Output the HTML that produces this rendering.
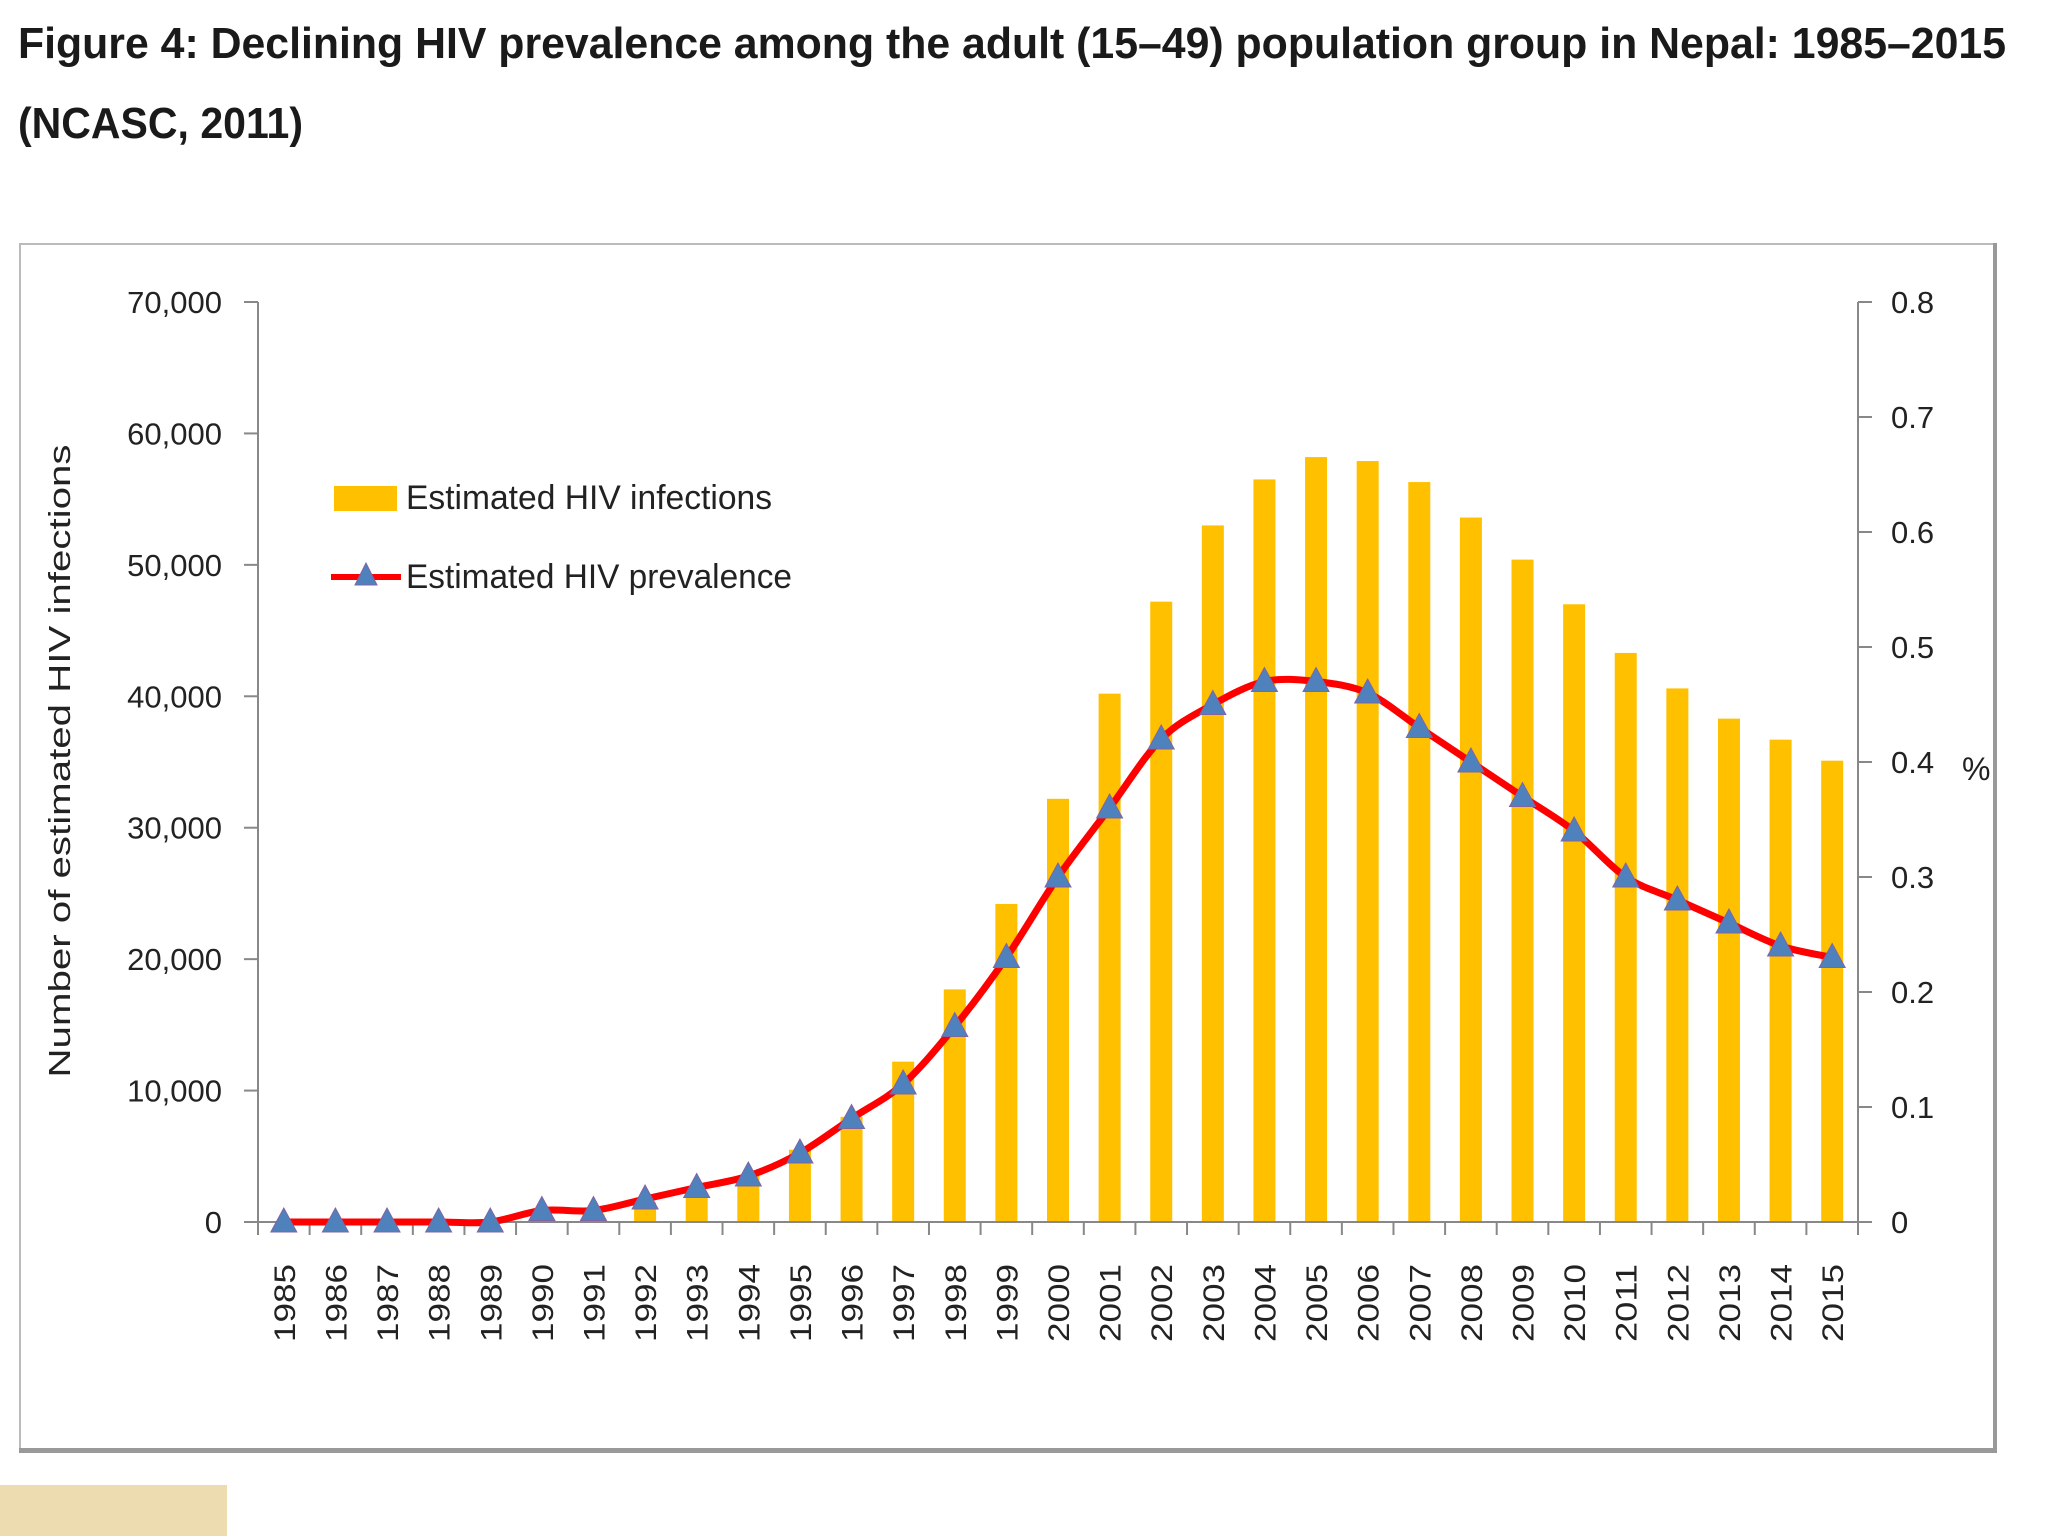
<!DOCTYPE html>
<html><head><meta charset="utf-8"><style>
html,body{margin:0;padding:0;background:#fff;}
svg{display:block;}
</style></head><body>
<svg id="chart" width="2048" height="1536" viewBox="0 0 2048 1536" font-family="'Liberation Sans', sans-serif">
<text x="18" y="58" font-size="44" font-weight="bold" fill="#1a1a1a" textLength="1988" lengthAdjust="spacingAndGlyphs">Figure 4: Declining HIV prevalence among the adult (15–49) population group in Nepal: 1985–2015</text>
<text x="18" y="138" font-size="44" font-weight="bold" fill="#1a1a1a" textLength="285" lengthAdjust="spacingAndGlyphs">(NCASC, 2011)</text>
<rect x="20" y="243" width="1975" height="2" fill="#bbb"/>
<rect x="19" y="243" width="2" height="1205" fill="#bbb"/>
<rect x="1993" y="243" width="4" height="1210" fill="#999"/>
<rect x="19" y="1448" width="1978" height="5" fill="#999"/>
<rect x="0" y="1485" width="227" height="51" fill="#ecdcb0"/>
<g id="plot"></g>
<g>
<rect x="334" y="486" width="63" height="25" fill="#ffc000"/>
<text x="406" y="509" font-size="34" fill="#222" textLength="366" lengthAdjust="spacingAndGlyphs">Estimated HIV infections</text>
<line x1="331" y1="577" x2="401" y2="577" stroke="#ff0000" stroke-width="6"/>
<polygon points="366,563 355,585 377,585" fill="#4f81bd" stroke="#8064a2" stroke-width="1"/>
<text x="406" y="588" font-size="34" fill="#222" textLength="386" lengthAdjust="spacingAndGlyphs">Estimated HIV prevalence</text>
</g>
<text transform="translate(70,761) rotate(-90)" text-anchor="middle" font-size="31" fill="#222" textLength="633" lengthAdjust="spacingAndGlyphs">Number of estimated HIV infections</text>
<text x="1962" y="780" font-size="32" fill="#222">%</text>
</svg>
<script>
const years = [1985,1986,1987,1988,1989,1990,1991,1992,1993,1994,1995,1996,1997,1998,1999,2000,2001,2002,2003,2004,2005,2006,2007,2008,2009,2010,2011,2012,2013,2014,2015];
const infections = [0,0,0,0,0,300,600,1500,2000,3500,5500,8000,12200,17700,24200,32200,40200,47200,53000,56500,58200,57900,56300,53600,50400,47000,43300,40600,38300,36700,35100];
const prevalence = [0,0,0,0,0,0.01,0.01,0.02,0.03,0.04,0.06,0.09,0.12,0.17,0.23,0.30,0.36,0.42,0.45,0.47,0.47,0.46,0.43,0.40,0.37,0.34,0.30,0.28,0.26,0.24,0.23];
const leftTicks = [0,10000,20000,30000,40000,50000,60000,70000];
const leftTickLabels = ["0","10,000","20,000","30,000","40,000","50,000","60,000","70,000"];
const rightTicks = [0,0.1,0.2,0.3,0.4,0.5,0.6,0.7,0.8];
const rightTickLabels = ["0","0.1","0.2","0.3","0.4","0.5","0.6","0.7","0.8"];

const NS="http://www.w3.org/2000/svg";
const g=document.getElementById('plot');
const X0=258,X1=1858,Y0=1222,Y1=302;
const step=(X1-X0)/years.length;
const xc=i=>X0+step*(i+0.5);
const yL=v=>Y0-(v/70000)*(Y0-Y1);
const yR=v=>Y0-(v/0.8)*(Y0-Y1);
function mk(tag,attrs,parent){const e=document.createElementNS(NS,tag);for(const k in attrs)e.setAttribute(k,attrs[k]);(parent||g).appendChild(e);return e;}

infections.forEach((v,i)=>{
  const bw=22;
  const r=mk('rect',{x:xc(i)-bw/2,y:yL(v),width:bw,height:Y0-yL(v),fill:'#ffc000'});
  
  
});
const ax=mk('line',{x1:X0,y1:Y1,x2:X0,y2:Y0,stroke:'#888','stroke-width':2});


const ax2=mk('line',{x1:X1,y1:Y1,x2:X1,y2:Y0+12,stroke:'#888','stroke-width':2});


const ax3=mk('line',{x1:X0-14,y1:Y0,x2:X1+14,y2:Y0,stroke:'#888','stroke-width':2});


leftTicks.forEach((v,i)=>{
  mk('line',{x1:X0-14,y1:yL(v),x2:X0,y2:yL(v),stroke:'#888','stroke-width':2});
  const t=mk('text',{x:222,y:yL(v)+11,'text-anchor':'end','font-size':31,fill:'#222'});
  t.textContent=leftTickLabels[i];
  
  
});
rightTicks.forEach((v,i)=>{
  mk('line',{x1:X1,y1:yR(v),x2:X1+14,y2:yR(v),stroke:'#888','stroke-width':2});
  const t=mk('text',{x:1891,y:yR(v)+11,'font-size':31,fill:'#222'});
  t.textContent=rightTickLabels[i];
  
  
});
for(let i=0;i<=years.length;i++){
  mk('line',{x1:X0+step*i,y1:Y0,x2:X0+step*i,y2:Y0+13,stroke:'#888','stroke-width':2});
}
years.forEach((yr,i)=>{
  const t=mk('text',{transform:`translate(${xc(i)+11},1264) rotate(-90)`,'text-anchor':'end','font-size':30,fill:'#222',textLength:78,lengthAdjust:'spacingAndGlyphs'});
  t.textContent=yr;
  
  
});
const pts=prevalence.map((v,i)=>[xc(i),yR(v)]);
let d=`M${pts[0][0]},${pts[0][1]}`;
for(let i=0;i<pts.length-1;i++){
  const p0=pts[Math.max(0,i-1)],p1=pts[i],p2=pts[i+1],p3=pts[Math.min(pts.length-1,i+2)];
  const t=0.16;
  d+=` C${p1[0]+(p2[0]-p0[0])*t},${p1[1]+(p2[1]-p0[1])*t} ${p2[0]-(p3[0]-p1[0])*t},${p2[1]-(p3[1]-p1[1])*t} ${p2[0]},${p2[1]}`;
}
const ln=mk('path',{d:d,fill:'none',stroke:'#ff0000','stroke-width':7,'stroke-linejoin':'round'});


pts.forEach((p,i)=>{
  const m=mk('polygon',{points:`${p[0]},${p[1]-14} ${p[0]-13},${p[1]+10} ${p[0]+13},${p[1]+10}`,fill:'#4f81bd',stroke:'#8064a2','stroke-width':1});
  
  
});
</script>
</body></html>
